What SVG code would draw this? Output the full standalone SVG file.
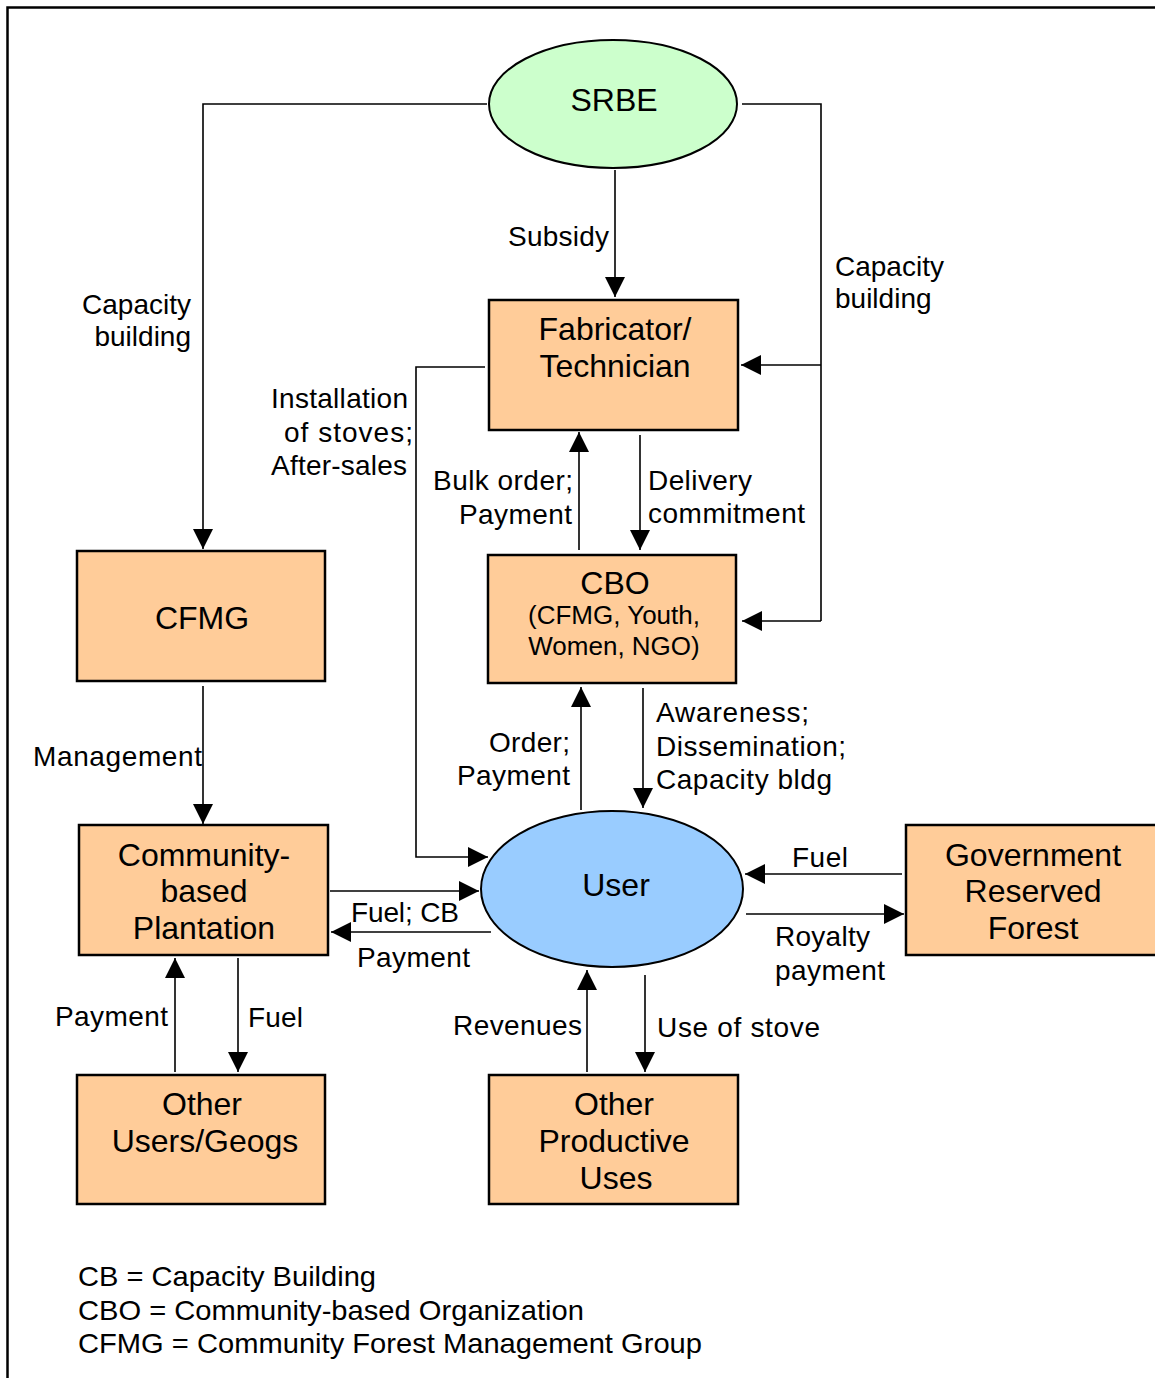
<svg xmlns="http://www.w3.org/2000/svg" width="1155" height="1378" viewBox="0 0 1155 1378">
  <style>
    text { font-family: "Liberation Sans", Arial, sans-serif; fill: #000; }
    .node { font-size: 32px; text-anchor: middle; }
    .lbl { font-size: 28px; }
    .sub { font-size: 26px; text-anchor: middle; }
    .box { fill: #FFCC99; stroke: #000; stroke-width: 2.5; }
    .conn path { fill: none; stroke: #000; stroke-width: 1.6; marker-end: url(#arrow); }
    .conn path.plain { marker-end: none; }
  </style>
  <defs>
    <marker id="arrow" markerUnits="userSpaceOnUse" markerWidth="20" markerHeight="20" refX="20" refY="10" orient="auto">
      <path d="M0,0 L20,10 L0,20 Z" fill="#000"/>
    </marker>
  </defs>

  <rect width="1155" height="1378" fill="#fff"/>
  <!-- frame -->
  <path d="M7.5,1378 V7.5 H1155" fill="none" stroke="#000" stroke-width="2.5"/>

  <!-- connectors -->
  <g id="connectors" class="conn">
    <path d="M487,104 H203 V549"/>
    <path class="plain" d="M742,104 H821 V621"/>
    <path d="M821,365 H741"/>
    <path d="M821,621 H742"/>
    <path d="M615,170 V297"/>
    <path d="M485,367 H416 V857 H488"/>
    <path d="M579,550 V432"/>
    <path d="M640,435 V550"/>
    <path d="M581,810 V687"/>
    <path d="M643,688 V808"/>
    <path d="M203,686 V824"/>
    <path d="M330,891 H479"/>
    <path d="M491,932 H331"/>
    <path d="M902,874 H745"/>
    <path d="M746,914 H904"/>
    <path d="M175,1072 V958"/>
    <path d="M238,958 V1072"/>
    <path d="M587,1072 V970"/>
    <path d="M645,975 V1072"/>
  </g>

  <!-- connector labels -->
  <g id="labels" class="lbl">
    <text x="508" y="246" textLength="101" lengthAdjust="spacing">Subsidy</text>
    <text x="191" y="314" text-anchor="end">Capacity</text>
    <text x="191" y="346" text-anchor="end">building</text>
    <text x="835" y="276">Capacity</text>
    <text x="835" y="308">building</text>
    <text x="271" y="408" textLength="137" lengthAdjust="spacing">Installation</text>
    <text x="284" y="442" textLength="129" lengthAdjust="spacing">of stoves;</text>
    <text x="271" y="475" textLength="136" lengthAdjust="spacing">After-sales</text>
    <text x="433" y="490" textLength="140" lengthAdjust="spacing">Bulk order;</text>
    <text x="459" y="524" textLength="113" lengthAdjust="spacing">Payment</text>
    <text x="648" y="490" textLength="104" lengthAdjust="spacing">Delivery</text>
    <text x="648" y="523" textLength="157" lengthAdjust="spacing">commitment</text>
    <text x="33" y="766" textLength="169" lengthAdjust="spacing">Management</text>
    <text x="489" y="752" textLength="81" lengthAdjust="spacing">Order;</text>
    <text x="457" y="785" textLength="113" lengthAdjust="spacing">Payment</text>
    <text x="656" y="722" textLength="153" lengthAdjust="spacing">Awareness;</text>
    <text x="656" y="756" textLength="190" lengthAdjust="spacing">Dissemination;</text>
    <text x="656" y="789" textLength="176" lengthAdjust="spacing">Capacity bldg</text>
    <text x="351" y="922" textLength="108" lengthAdjust="spacing">Fuel; CB</text>
    <text x="357" y="967" textLength="113" lengthAdjust="spacing">Payment</text>
    <text x="792" y="867" textLength="56" lengthAdjust="spacing">Fuel</text>
    <text x="775" y="946" textLength="95" lengthAdjust="spacing">Royalty</text>
    <text x="775" y="980" textLength="110" lengthAdjust="spacing">payment</text>
    <text x="55" y="1026" textLength="113" lengthAdjust="spacing">Payment</text>
    <text x="248" y="1027" textLength="55" lengthAdjust="spacing">Fuel</text>
    <text x="453" y="1035" textLength="129" lengthAdjust="spacing">Revenues</text>
    <text x="657" y="1037" textLength="163" lengthAdjust="spacing">Use of stove</text>
  </g>

  <!-- nodes -->
  <g id="srbe">
    <ellipse cx="613" cy="104" rx="124" ry="64" fill="#CCFFCC" stroke="#000" stroke-width="2"/>
    <text class="node" x="614" y="111">SRBE</text>
  </g>
  <g id="fabricator">
    <rect class="box" x="489" y="300" width="249" height="130"/>
    <text class="node" x="615" y="340">Fabricator/</text>
    <text class="node" x="615" y="377">Technician</text>
  </g>
  <g id="cbo">
    <rect class="box" x="488" y="555" width="248" height="128"/>
    <text class="node" x="615" y="594">CBO</text>
    <text class="sub" x="614" y="624">(CFMG, Youth,</text>
    <text class="sub" x="614" y="655">Women, NGO)</text>
  </g>
  <g id="cfmg">
    <rect class="box" x="77" y="551" width="248" height="130"/>
    <text class="node" x="202" y="629">CFMG</text>
  </g>
  <g id="plantation">
    <rect class="box" x="79" y="825" width="249" height="130"/>
    <text class="node" x="204" y="866">Community-</text>
    <text class="node" x="204" y="902">based</text>
    <text class="node" x="204" y="939">Plantation</text>
  </g>
  <g id="user">
    <ellipse cx="612" cy="889" rx="131" ry="78" fill="#99CCFF" stroke="#000" stroke-width="2"/>
    <text class="node" x="616" y="896">User</text>
  </g>
  <g id="forest">
    <rect class="box" x="906" y="825" width="252" height="130"/>
    <text class="node" x="1033" y="866">Government</text>
    <text class="node" x="1033" y="902">Reserved</text>
    <text class="node" x="1033" y="939">Forest</text>
  </g>
  <g id="other-users">
    <rect class="box" x="77" y="1075" width="248" height="129"/>
    <text class="node" x="202" y="1115">Other</text>
    <text class="node" x="205" y="1152">Users/Geogs</text>
  </g>
  <g id="productive-uses">
    <rect class="box" x="489" y="1075" width="249" height="129"/>
    <text class="node" x="614" y="1115">Other</text>
    <text class="node" x="614" y="1152">Productive</text>
    <text class="node" x="616" y="1189">Uses</text>
  </g>

  <!-- key -->
  <g id="key" class="lbl">
    <text x="78" y="1286" textLength="298" lengthAdjust="spacingAndGlyphs">CB = Capacity Building</text>
    <text x="78" y="1320" textLength="506" lengthAdjust="spacingAndGlyphs">CBO = Community-based Organization</text>
    <text x="78" y="1353" textLength="624" lengthAdjust="spacingAndGlyphs">CFMG = Community Forest Management Group</text>
  </g>
</svg>
